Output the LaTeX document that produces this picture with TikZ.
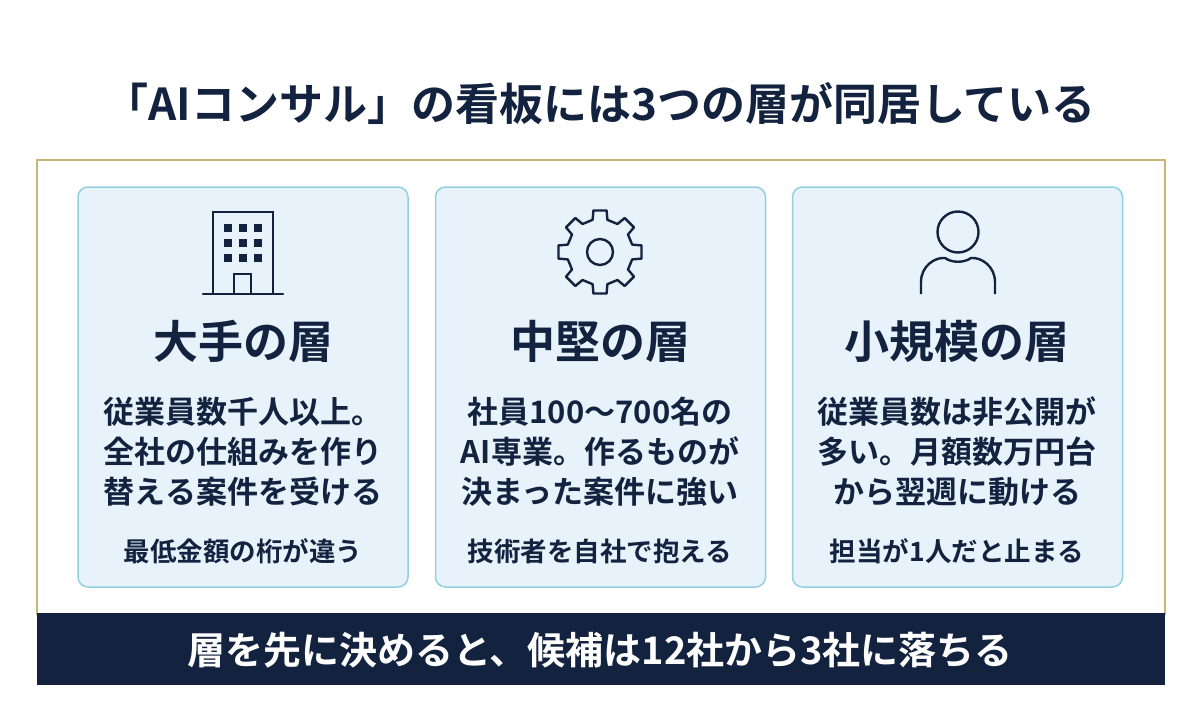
\documentclass[tikz,border=0pt]{standalone}
\usepackage{fontspec}
\setmainfont{Noto Sans CJK JP}[BoldFont={* Bold}]
\newfontfamily\jpb{Noto Sans CJK JP Bold}
\definecolor{navy}{HTML}{13233F}
\definecolor{gold}{HTML}{C9B577}
\definecolor{cardfill}{HTML}{E7F2FB}
\definecolor{cardline}{HTML}{93D0E0}
\begin{document}
\begin{tikzpicture}[x=1pt,y=-1pt,
  card/.style={draw=cardline,line width=1.5pt,fill=cardfill,rounded corners=10pt,minimum width=330pt,minimum height=400pt,inner sep=0pt},
  head/.style={text=navy,font=\jpb\fontsize{45}{50}\selectfont},
  body/.style={text=navy,font=\jpb\fontsize{31}{40}\selectfont,align=center},
  sub/.style={text=navy,font=\jpb\fontsize{26.5}{30}\selectfont},
  icon/.style={draw=navy,line width=2.4pt}]
\useasboundingbox (0,0) rectangle (1200,721);
\fill[white] (0,0) rectangle (1200,721);
\node[text=navy,font=\jpb\fontsize{44}{50}\selectfont] (title) at (600,104) {「AIコンサル」の看板には3つの層が同居している};
\draw[gold,line width=1.5pt] (37,615) -- (37,160) -- (1165,160) -- (1165,615);
\node[fill=navy,minimum width=1128pt,minimum height=72pt,inner sep=0pt] (band) at (601,649) {};
\node[text=white,font=\jpb\fontsize{38}{42}\selectfont] (bandtext) at (600,650) {層を先に決めると、候補は12社から3社に落ちる};
% cards
\node[card] (c1) at (243,387) {};
\node[card] (c2) at (600.5,387) {};
\node[card] (c3) at (957.5,387) {};
% building
\draw[icon] (213,293) -- (213,212) -- (273,212) -- (273,293);
\draw[icon,line cap=round] (203,294) -- (283,294);
\draw[icon] (234,293) -- (234,274) -- (251,274) -- (251,293);
\foreach \x in {224,239,254}\foreach \y in {224,239,254}
  \fill[navy] (\x,\y) rectangle ++(8,8);
% gear
\begin{scope}[shift={(600,252)}]
\draw[icon,line join=round] (-13:33)
  \foreach \i in {0,...,7}{ -- ({\i*45-13}:33) -- ({\i*45-9}:42) -- ({\i*45+9}:42) -- ({\i*45+13}:33) -- ({\i*45+32}:33)} -- cycle;
\draw[icon] (0,0) circle (13);
\end{scope}
% person
\draw[icon] (958,232) circle (20.5);
\draw[icon] (921,294) -- (921,282) .. controls (921,266) and (935,257) .. (945,258) .. controls (952,263) and (964,263) .. (971,258) .. controls (981,257) and (995,266) .. (995,282) -- (995,294);
% headers
\node[head] (h1) at (243,341) {大手の層};
\node[head] (h2) at (600,341) {中堅の層};
\node[head] (h3) at (957,341) {小規模の層};
\node[body] (b1) at (243,452) {従業員数千人以上。\\全社の仕組みを作り\\替える案件を受ける};
\node[body] (b2) at (600,452) {社員100〜700名の\\AI専業。作るものが\\決まった案件に強い};
\node[body] (b3) at (957,452) {従業員数は非公開が\\多い。月額数万円台\\から翌週に動ける};
\node[sub] (s1) at (243,551) {最低金額の桁が違う};
\node[sub] (s2) at (600,551) {技術者を自社で抱える};
\node[sub] (s3) at (957,551) {担当が1人だと止まる};
\end{tikzpicture}
\end{document}
